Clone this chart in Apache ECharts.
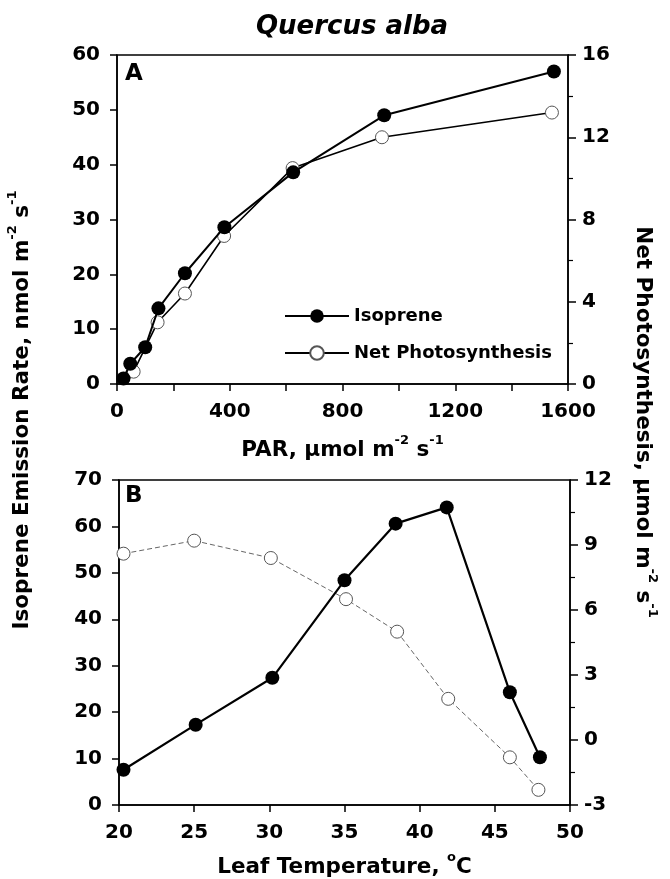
<!DOCTYPE html>
<html>
<head>
<meta charset="utf-8">
<script src="https://cdn.jsdelivr.net/npm/echarts@6/dist/echarts.min.js"></script>
<style>
  html, body { margin: 0; padding: 0; background: #fff; }
  #chart { width: 670px; height: 879px; }
</style>
</head>
<body>
<div id="chart"></div>
<script>
// Panel A – response to light (PAR)
const parIsoprene = [23, 47, 100, 147, 241, 381, 625, 948, 1550];
const isopreneA   = [1.0, 3.7, 6.7, 13.8, 20.2, 28.6, 38.6, 49.0, 57.0];
const parPhoto    = [27, 59, 144, 241, 380, 623, 940, 1543];
const photoA      = [-0.1, 0.6, 3.0, 4.4, 7.2, 10.5, 12.0, 13.2];

// Panel B – response to leaf temperature
const tempIsoprene = [20.3, 25.1, 30.2, 35.0, 38.4, 41.8, 46.0, 48.0];
const isopreneB    = [7.6, 17.3, 27.4, 48.4, 60.6, 64.1, 24.3, 10.3];
const tempPhoto    = [20.3, 25.0, 30.1, 35.1, 38.5, 41.9, 46.0, 47.9];
const photoB       = [8.6, 9.2, 8.4, 6.5, 5.0, 1.9, -0.8, -2.3];

const seriesNames = ['Isoprene', 'Net Photosynthesis'];

const FONT = '"DejaVu Sans", Verdana, sans-serif';
const pairs = (xs, ys) => xs.map((x, i) => [x, ys[i]]);

const richUnits = {
  b: { fontFamily: FONT, fontSize: 21.5, fontWeight: 'bold', color: '#000', lineHeight: 27, verticalAlign: 'bottom' },
  s: { fontFamily: FONT, fontSize: 13, fontWeight: 'bold', color: '#000', lineHeight: 13, verticalAlign: 'top' }
};

const tickLabel = { color: '#000', fontFamily: FONT, fontSize: 20, fontWeight: 'bold' };
const axisLine = { show: true, lineStyle: { color: '#000', width: 1.5 } };

function leftAxis(gridIndex, min, max, interval) {
  return {
    type: 'value', gridIndex, position: 'left', min, max, interval,
    axisLine, splitLine: { show: false },
    axisTick: { show: true, length: 7, lineStyle: { color: '#000', width: 1.5 } },
    axisLabel: Object.assign({ margin: 17 }, tickLabel)
  };
}
function rightAxis(gridIndex, min, max, interval) {
  return {
    type: 'value', gridIndex, position: 'right', min, max, interval,
    axisLine, splitLine: { show: false },
    axisTick: { show: true, length: 8, lineStyle: { color: '#000', width: 1.5 } },
    minorTick: { show: true, splitNumber: 2, length: 5, lineStyle: { color: '#000', width: 1.2 } },
    axisLabel: Object.assign({ margin: 14 }, tickLabel)
  };
}

const option = {
  animation: false,
  backgroundColor: '#fff',
  grid: [
    { left: 117, top: 55, width: 451, height: 329, show: true, borderColor: '#000', borderWidth: 1.5 },
    { left: 119, top: 480, width: 451, height: 327, show: true, borderColor: '#000', borderWidth: 1.5 }
  ],
  xAxis: [
    {
      type: 'value', gridIndex: 0, min: 0, max: 1600, interval: 200,
      axisLine, splitLine: { show: false },
      axisTick: { show: true, length: 7, lineStyle: { color: '#000', width: 1.5 } },
      axisLabel: Object.assign({ margin: 18, formatter: v => (v % 400 === 0 ? String(v) : '') }, tickLabel),
      name: '{b|PAR, μmol m}{s|-2}{b| s}{s|-1}',
      nameLocation: 'middle', nameGap: 50,
      nameTextStyle: { rich: richUnits }
    },
    {
      type: 'value', gridIndex: 1, min: 20, max: 50, interval: 5,
      axisLine, splitLine: { show: false },
      axisTick: { show: true, length: 7, lineStyle: { color: '#000', width: 1.5 } },
      axisLabel: Object.assign({ margin: 18 }, tickLabel),
      name: '{b|Leaf Temperature, }{s|o}{b|C}',
      nameLocation: 'middle', nameGap: 46,
      nameTextStyle: { rich: richUnits }
    }
  ],
  yAxis: [
    leftAxis(0, 0, 60, 10),
    rightAxis(0, 0, 16, 4),
    leftAxis(1, 0, 70, 10),
    rightAxis(1, -3, 12, 3)
  ],
  legend: {
    data: seriesNames,
    orient: 'vertical',
    left: 279, top: 302,
    itemWidth: 64, itemHeight: 17, itemGap: 19,
    textStyle: { color: '#000', fontFamily: FONT, fontSize: 18, fontWeight: 'bold' },
    selectedMode: false
  },
  series: [
    {
      name: seriesNames[1], type: 'line', xAxisIndex: 0, yAxisIndex: 1,
      data: pairs(parPhoto, photoA),
      symbol: 'circle', symbolSize: 13,
      lineStyle: { color: '#000', width: 1.6 },
      itemStyle: { color: '#fff', borderColor: '#555', borderWidth: 1 },
      z: 2
    },
    {
      name: seriesNames[0], type: 'line', xAxisIndex: 0, yAxisIndex: 0,
      data: pairs(parIsoprene, isopreneA),
      symbol: 'circle', symbolSize: 14,
      lineStyle: { color: '#000', width: 2 },
      itemStyle: { color: '#000', borderColor: '#000', borderWidth: 0 },
      z: 3
    },
    {
      name: seriesNames[1], type: 'line', xAxisIndex: 1, yAxisIndex: 3,
      data: pairs(tempPhoto, photoB),
      symbol: 'circle', symbolSize: 13,
      lineStyle: { color: '#666', width: 1, type: [5, 3] },
      itemStyle: { color: '#fff', borderColor: '#555', borderWidth: 1 },
      z: 2
    },
    {
      name: seriesNames[0], type: 'line', xAxisIndex: 1, yAxisIndex: 2,
      data: pairs(tempIsoprene, isopreneB),
      symbol: 'circle', symbolSize: 14,
      lineStyle: { color: '#000', width: 2.2 },
      itemStyle: { color: '#000', borderColor: '#000', borderWidth: 0 },
      z: 3
    }
  ],
  graphic: [
    {
      type: 'text', x: 352, y: 27,
      style: { text: 'Quercus alba', font: 'italic bold 26px ' + FONT, fill: '#000', align: 'center', verticalAlign: 'middle' }
    },
    {
      type: 'text', x: 125, y: 74,
      style: { text: 'A', font: 'bold 23px ' + FONT, fill: '#000', align: 'left', verticalAlign: 'middle' }
    },
    {
      type: 'text', x: 125, y: 496,
      style: { text: 'B', font: 'bold 23px ' + FONT, fill: '#000', align: 'left', verticalAlign: 'middle' }
    },
    {
      type: 'text', x: 20, y: 410, rotation: Math.PI / 2,
      style: {
        text: '{b|Isoprene Emission Rate, nmol m}{s|-2}{b| s}{s|-1}',
        rich: richUnits, align: 'center', verticalAlign: 'middle'
      }
    },
    {
      type: 'text', x: 645, y: 422, rotation: -Math.PI / 2,
      style: {
        text: '{b|Net Photosynthesis, μmol m}{s|-2}{b| s}{s|-1}',
        rich: richUnits, align: 'center', verticalAlign: 'middle'
      }
    }
  ]
};

const chart = echarts.init(document.getElementById('chart'), null, { renderer: 'canvas' });
chart.setOption(option);
</script>
</body>
</html>
